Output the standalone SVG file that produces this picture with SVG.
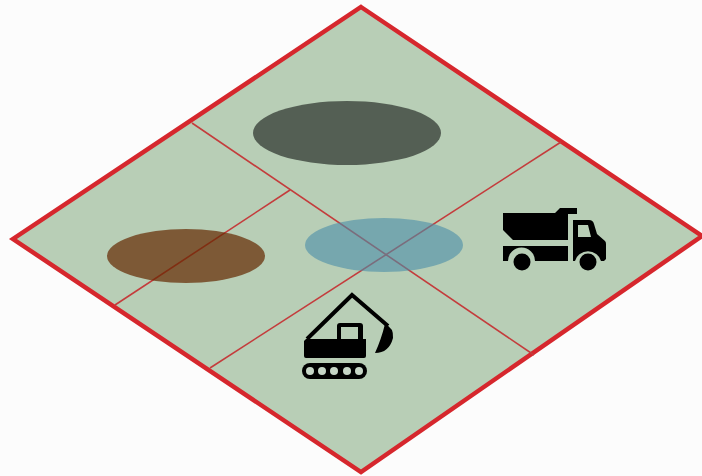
<svg xmlns="http://www.w3.org/2000/svg" width="702" height="476" viewBox="0 0 702 476">
<style>.g{stroke:#c43c3c;stroke-width:1.6;fill:none}.k{fill:#000}.kl{fill:none;stroke:#000}</style>
<rect width="702" height="476" fill="#fcfcfc"/>
<g id="site"><polygon points="361,7 702,236 361,472 13,239" fill="#b8ceb6" stroke="#d6272d" stroke-width="4.5"/></g>
<g id="connectors">
<path class="g" d="M192,123 L534,355"/>
<path class="g" d="M561,142 L210,368"/>
<path class="g" d="M290,190 L115,305"/>
</g>
<g id="pond-dark"><ellipse cx="347" cy="133" rx="94" ry="32" fill="#545f54"/></g>
<g id="pond-brown"><ellipse cx="186" cy="256" rx="79" ry="27" fill="#642800" fill-opacity=".7"/></g>
<g id="pond-blue"><ellipse cx="384" cy="245" rx="79" ry="27" fill="#4a8da9" fill-opacity=".6"/></g>
<g id="truck">
<path class="k" d="M503,213 H555 L560,208 H577 V214 H568 V240 H513 L503,230 Z"/>
<path class="k" d="M503,246 H568 V261 H535 A13.500,13.500 0 0 0 508,261 H503 Z"/>
<path class="k" fill-rule="evenodd" d="M573,220 H589 Q593,220 594,224 L597,234 L605,241 Q606,242 606,244 V259 L604,261 H601 A13.500,13.500 0 0 0 575,261 H573 Z M578,225 V237 H591 L588,225 Z"/>
<circle class="k" cx="522" cy="262" r="8.500"/><circle class="k" cx="588" cy="262" r="8.500"/>
</g>
<g id="excavator">
<path class="kl" stroke-width="4" d="M307,339 L352,295 L388,326"/>
<path class="k" fill-rule="evenodd" d="M337,326 Q337,323 340,323 H360 Q363,323 363,326 V339 H366 V356 Q366,358 364,358 H306 Q304,358 304,356 V341 L306,339 H337 Z M341,327 V339 H358 V327 Z"/>
<path class="k" d="M385,324 Q394,328 393,338 Q389,353 375,353 Q381,340 385,324 Z"/>
<rect class="k" x="302" y="363" width="65" height="16" rx="8"/>
<g fill="#c6d6c6"><circle cx="310" cy="371" r="4"/><circle cx="322" cy="371" r="4"/><circle cx="334" cy="371" r="4"/><circle cx="347" cy="371" r="4"/><circle cx="359" cy="371" r="4"/></g>
</g>
</svg>
